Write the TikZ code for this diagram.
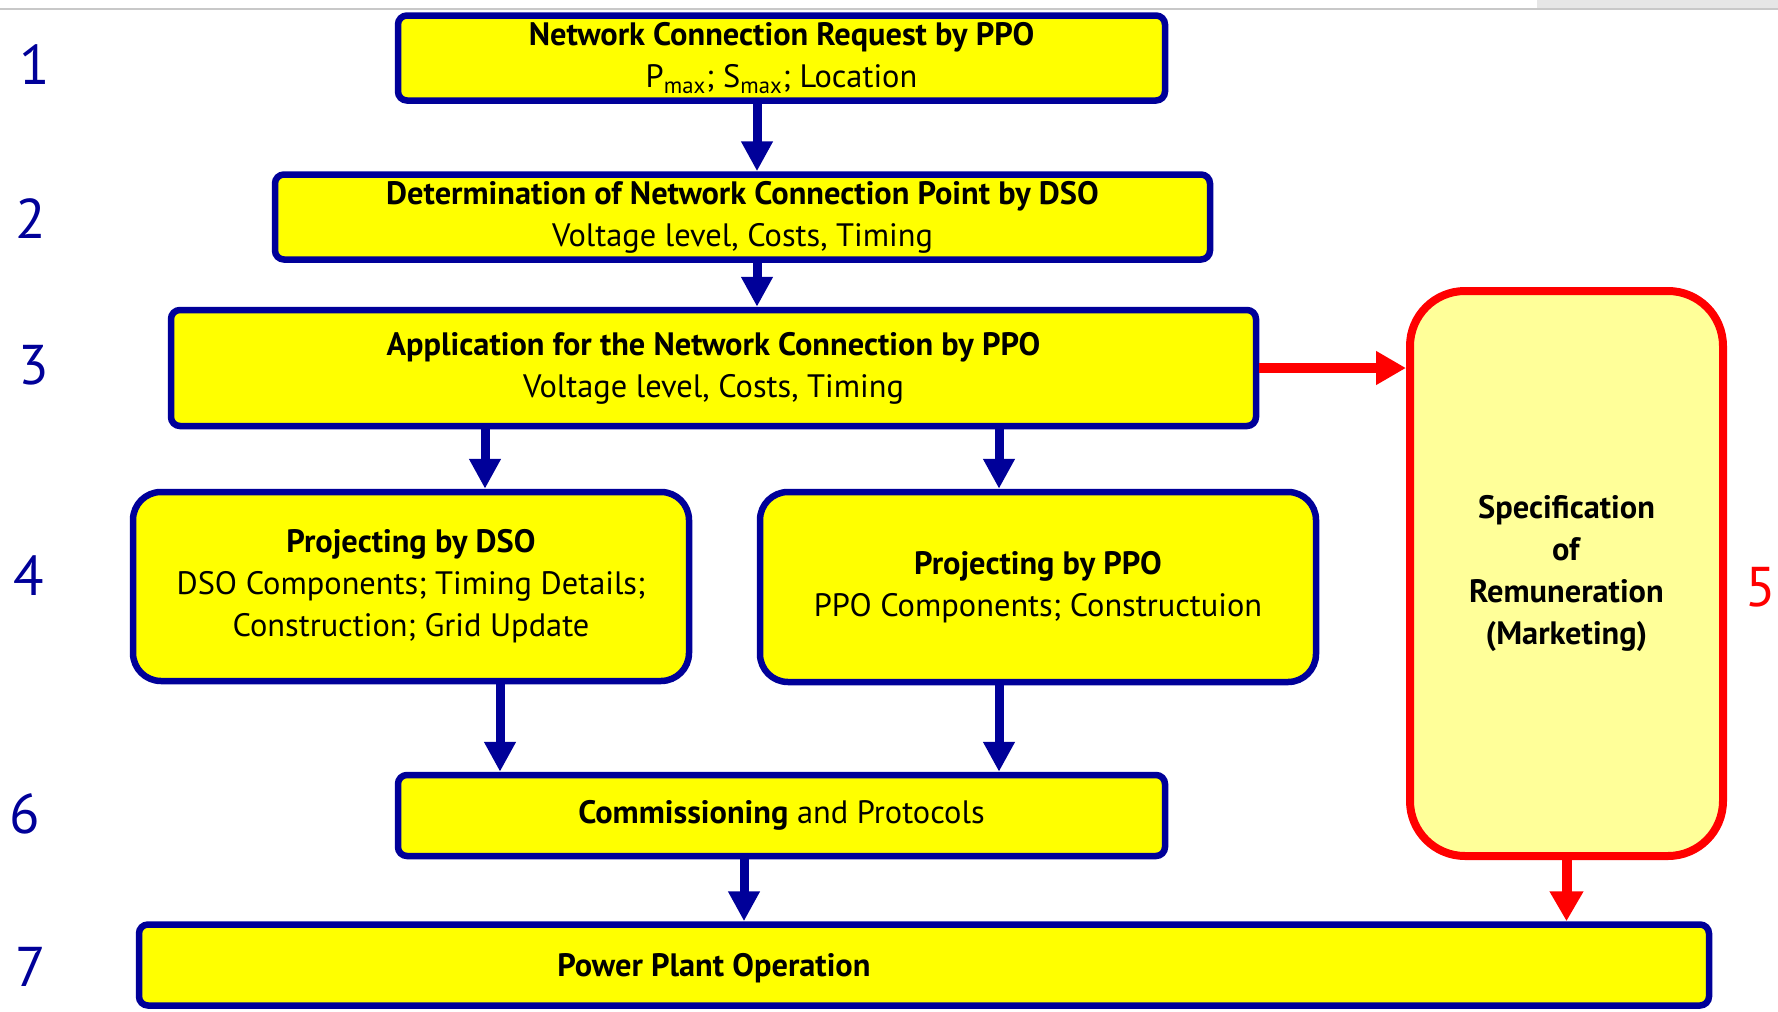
\documentclass[tikz,border=0pt]{standalone}
\usepackage{fontspec}
\setmainfont{PT Sans}
\usetikzlibrary{arrows.meta}
\definecolor{navy}{RGB}{0,0,153}
\definecolor{boxyellow}{RGB}{255,255,0}
\definecolor{paleyellow}{RGB}{255,255,153}
\definecolor{linegray}{RGB}{200,200,200}
\definecolor{blockgray}{RGB}{230,230,230}
\tikzset{
  box/.style={draw=navy, line width=3.25pt, fill=boxyellow, rounded corners=4.5pt,
    align=center, inner sep=0pt, font=\fontsize{16.2}{21}\selectfont},
  redbox/.style={draw=red, line width=4pt, fill=paleyellow, rounded corners=27.5pt,
    align=center, inner sep=0pt, font=\fontsize{16.2}{21}\selectfont},
  num/.style={text=navy, font=\fontsize{28}{28}\selectfont, inner sep=0pt},
  bluearr/.style={draw=navy, line width=4.5pt, -{Triangle[length=15pt,width=15pt]}},
  redarr/.style={draw=red, line width=5pt, -{Triangle[length=15pt,width=16pt]}}
}
\begin{document}
\begin{tikzpicture}[x=0.5pt,y=-0.5pt]
\useasboundingbox (0,0) rectangle (1778,1012);
\fill[white] (0,0) rectangle (1778,1012);
\fill[blockgray] (1537,0) rectangle (1778,9);
\draw[linegray, line width=1pt] (0,9) -- (1778,9);

\node[box, minimum width=383.5pt, minimum height=42.5pt] (b1) at (781.5,58)
  {\textbf{Network Connection Request by PPO}\\P\textsubscript{max}; S\textsubscript{max}; Location};
\node[box, minimum width=467.5pt, minimum height=42.5pt] (b2) at (742.5,217)
  {\textbf{Determination of Network Connection Point by DSO}\\Voltage level, Costs, Timing};
\node[box, minimum width=542.5pt, minimum height=58pt] (b3) at (713.5,368)
  {\textbf{Application for the Network Connection by PPO}\\Voltage level, Costs, Timing};
\node[box, rounded corners=14pt, minimum width=278pt, minimum height=94.5pt] (b4a) at (411,586.5)
  {\textbf{Projecting by DSO}\\DSO Components; Timing Details;\\Construction; Grid Update};
\node[box, rounded corners=14pt, minimum width=278pt, minimum height=95pt] (b4b) at (1038,587)
  {\textbf{Projecting by PPO}\\PPO Components; Constructuion};
\node[redbox, minimum width=156.5pt, minimum height=282.5pt] (b5) at (1566.5,573.5)
  {\textbf{Specification}\\\textbf{of}\\\textbf{Remuneration}\\\textbf{(Marketing)}};
\node[box, minimum width=383.5pt, minimum height=40.5pt] (b6) at (781.5,815.5)
  {\textbf{Commissioning} and Protocols};
\node[box, minimum width=785pt, minimum height=40.5pt] (b7) at (924,965) {};
\node[font=\fontsize{16.2}{21}\selectfont\bfseries, inner sep=0pt] (t7) at (714,968) {Power Plant Operation};

\node[num] (n1) at (35,65) {1};
\node[num] (n2) at (31,219) {2};
\node[num] (n3) at (34,365) {3};
\node[num] (n4) at (29,576) {4};
\node[num, text=red] (n5) at (1761,587) {5};
\node[num] (n6) at (25,814) {6};
\node[num] (n7) at (31,967) {7};

\coordinate (x12) at (757,0);
\coordinate (x34a) at (485,0);
\coordinate (x34b) at (999,0);
\coordinate (x46a) at (500,0);
\coordinate (x67) at (744,0);

\draw[bluearr] (b1.south -| x12) -- (b2.north -| x12);
\draw[bluearr] (b2.south -| x12) -- (b3.north -| x12);
\draw[bluearr] (b3.south -| x34a) -- (b4a.north -| x34a);
\draw[bluearr] (b3.south -| x34b) -- (b4b.north -| x34b);
\draw[bluearr] (b4a.south -| x46a) -- (b6.north -| x46a);
\draw[bluearr] (b4b.south -| x34b) -- (b6.north -| x34b);
\draw[bluearr] (b6.south -| x67) -- (b7.north -| x67);
\draw[redarr] (b3.east) -- (b3.east -| b5.west);
\draw[redarr] (b5.south) -- (b5.south |- b7.north);
\end{tikzpicture}
\end{document}
